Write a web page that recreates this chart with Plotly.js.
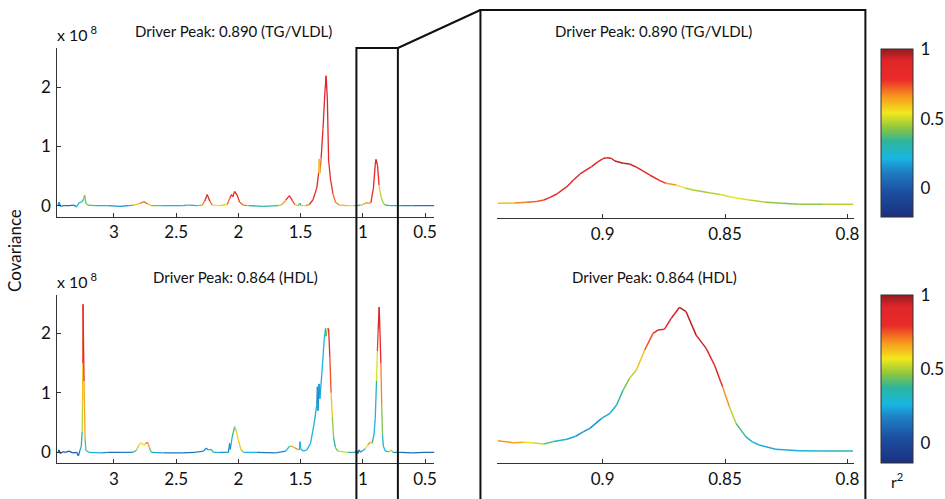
<!DOCTYPE html>
<html>
<head>
<meta charset="utf-8">
<script src="https://cdn.plot.ly/plotly-3.0.1.min.js"></script>
<style>html,body{margin:0;padding:0;background:#fff;}#chart{width:945px;height:499px;}</style>
</head>
<body>
<div id="chart"></div>
<script>
// ---------- DATA (covariance in units of 1e8, r² values) ----------
// Full spectrum, driver peak 0.890 (TG/VLDL)
const ppmTG = [3.45,3.44,3.43,3.40,3.36,3.32,3.30,3.28,3.26,3.245,3.235,3.225,3.21,3.15,3.05,2.95,2.88,2.84,2.79,2.76,2.73,2.70,2.62,2.45,2.40,2.33,2.29,2.27,2.25,2.23,2.21,2.15,2.09,2.07,2.055,2.045,2.03,2.01,1.99,1.96,1.93,1.92,1.8,1.68,1.65,1.62,1.59,1.565,1.545,1.52,1.505,1.495,1.46,1.43,1.40,1.37,1.355,1.35,1.345,1.335,1.32,1.305,1.295,1.285,1.275,1.26,1.24,1.22,1.19,1.12,1.07,1.05,1.02,1.0,0.975,0.955,0.935,0.915,0.90,0.894,0.887,0.882,0.87,0.86,0.85,0.835,0.82,0.78,0.70,0.6,0.5,0.425];
const covTG = [0.0,0.06,-0.01,0.0,0.0,0.01,-0.02,0.05,0.06,0.10,0.18,0.04,0.01,0.0,0.0,-0.01,0.0,0.01,0.04,0.07,0.03,0.0,0.0,0.0,0.01,0.0,0.01,0.08,0.19,0.08,0.01,0.0,0.02,0.12,0.19,0.15,0.24,0.18,0.06,0.01,0.0,0.0,-0.01,0.0,0.02,0.09,0.17,0.08,0.02,0.0,0.04,0.0,0.0,0.02,0.10,0.30,0.55,0.79,0.55,0.80,1.30,1.90,2.19,1.80,0.77,0.45,0.20,0.06,0.01,0.0,0.0,0.0,0.01,0.02,0.05,0.04,0.05,0.30,0.70,0.78,0.72,0.68,0.35,0.22,0.12,0.04,0.01,0.0,0.0,0.0,0.0,0.0];
const r2TG  = [0.1,0.15,0.1,0.08,0.05,0.1,0.2,0.25,0.3,0.4,0.45,0.4,0.45,0.3,0.2,0.12,0.15,0.55,0.65,0.75,0.7,0.5,0.3,0.2,0.25,0.3,0.55,0.8,0.85,0.8,0.6,0.5,0.65,0.8,0.82,0.8,0.85,0.82,0.75,0.7,0.7,0.35,0.3,0.35,0.55,0.75,0.8,0.75,0.7,0.5,0.25,0.45,0.6,0.75,0.8,0.82,0.8,0.45,0.6,0.85,0.85,0.88,0.9,0.88,0.85,0.8,0.75,0.7,0.65,0.6,0.45,0.25,0.3,0.6,0.7,0.65,0.7,0.85,0.88,0.92,0.95,0.9,0.7,0.5,0.45,0.45,0.4,0.25,0.18,0.1,0.08,0.08];

// Full spectrum, driver peak 0.864 (HDL)
const ppmHDL = [3.45,3.44,3.43,3.41,3.39,3.36,3.33,3.30,3.285,3.275,3.262,3.255,3.252,3.250,3.248,3.24,3.232,3.225,3.2,3.1,3.05,2.95,2.85,2.82,2.80,2.78,2.76,2.745,2.73,2.715,2.70,2.6,2.45,2.35,2.28,2.26,2.24,2.22,2.20,2.15,2.08,2.07,2.065,2.05,2.03,2.015,2.0,1.98,1.96,1.85,1.70,1.62,1.59,1.57,1.55,1.525,1.51,1.505,1.50,1.48,1.45,1.42,1.39,1.37,1.365,1.36,1.352,1.345,1.33,1.31,1.30,1.295,1.285,1.275,1.265,1.255,1.245,1.235,1.22,1.2,1.12,1.06,1.05,1.04,1.03,1.02,1.0,0.98,0.96,0.94,0.925,0.91,0.90,0.89,0.883,0.877,0.8686,0.862,0.855,0.848,0.842,0.835,0.82,0.79,0.77,0.76,0.7,0.6,0.5,0.425];
const covHDL = [0.0,0.04,-0.02,0.01,0.0,0.02,-0.01,0.0,-0.06,0.02,0.10,0.35,0.8,1.5,2.49,1.2,0.25,0.03,0.0,-0.01,0.0,0.0,0.0,0.03,0.12,0.16,0.12,0.15,0.17,0.08,0.0,-0.01,-0.01,0.0,0.02,0.07,0.04,0.05,0.0,0.0,0.0,0.15,0.05,0.25,0.43,0.35,0.2,0.05,0.0,0.0,-0.01,0.02,0.1,0.1,0.08,0.05,0.04,0.18,0.06,0.02,0.04,0.15,0.5,0.8,1.1,0.7,1.15,0.9,1.3,1.9,2.08,1.95,2.08,2.08,1.6,1.0,0.6,0.25,0.08,0.02,0.0,0.0,0.03,-0.02,0.04,0.0,0.03,0.06,0.12,0.17,0.15,0.3,0.57,1.2,1.7,2.05,2.44,2.0,1.5,0.77,0.3,0.1,0.02,0.01,0.04,0.0,0.0,-0.01,0.0,0.0];
const r2HDL  = [0.05,0.05,0.05,0.05,0.05,0.08,0.05,0.05,0.1,0.15,0.3,0.45,0.55,0.7,0.85,0.8,0.5,0.35,0.3,0.2,0.15,0.12,0.2,0.45,0.55,0.6,0.55,0.65,0.82,0.55,0.3,0.15,0.12,0.15,0.2,0.15,0.25,0.45,0.3,0.2,0.2,0.15,0.2,0.3,0.45,0.55,0.65,0.6,0.35,0.15,0.15,0.2,0.3,0.6,0.7,0.7,0.3,0.25,0.25,0.25,0.25,0.25,0.25,0.22,0.2,0.22,0.2,0.22,0.25,0.28,0.3,0.4,0.6,0.85,0.8,0.7,0.55,0.4,0.35,0.5,0.55,0.2,0.1,0.1,0.15,0.15,0.25,0.45,0.7,0.7,0.5,0.25,0.25,0.4,0.7,0.85,0.95,0.9,0.85,0.55,0.35,0.25,0.25,0.3,0.7,0.3,0.12,0.1,0.1,0.1];

// Zoom 0.94–0.80 ppm, TG/VLDL
const ppmTGz = [0.9428,0.936,0.931,0.927,0.924,0.9215,0.9187,0.9146,0.912,0.9092,0.9045,0.902,0.900,0.8984,0.8965,0.895,0.8916,0.889,0.886,0.8808,0.877,0.874,0.870,0.8665,0.863,0.8564,0.852,0.848,0.844,0.840,0.8333,0.8266,0.820,0.810,0.7975];
const covTGz = [0.04,0.045,0.057,0.072,0.096,0.14,0.197,0.32,0.43,0.535,0.66,0.74,0.79,0.81,0.80,0.754,0.715,0.703,0.647,0.518,0.43,0.377,0.349,0.30,0.265,0.22,0.19,0.152,0.12,0.096,0.06,0.04,0.025,0.023,0.023];
const r2TGz  = [0.55,0.65,0.7,0.72,0.75,0.8,0.82,0.84,0.85,0.85,0.86,0.87,0.88,0.9,0.92,0.95,0.96,0.96,0.9,0.85,0.8,0.72,0.58,0.5,0.45,0.45,0.5,0.55,0.52,0.5,0.45,0.42,0.42,0.45,0.52];

// Zoom 0.94–0.80 ppm, HDL
const ppmHDLz = [0.9428,0.9363,0.9322,0.928,0.924,0.920,0.9146,0.911,0.9078,0.9052,0.9004,0.897,0.8943,0.8916,0.889,0.8862,0.8828,0.8794,0.8774,0.8747,0.872,0.8686,0.8659,0.8618,0.8577,0.8543,0.851,0.8482,0.8455,0.8415,0.839,0.836,0.8293,0.8198,0.810,0.7977];
const covHDLz = [0.195,0.162,0.168,0.155,0.14,0.18,0.218,0.27,0.347,0.403,0.571,0.655,0.795,1.047,1.243,1.383,1.72,2.0,2.055,2.07,2.25,2.437,2.363,1.97,1.747,1.467,1.103,0.767,0.487,0.263,0.18,0.123,0.05,0.027,0.022,0.022];
const r2HDLz  = [0.68,0.68,0.62,0.55,0.5,0.35,0.25,0.22,0.22,0.2,0.22,0.25,0.32,0.42,0.48,0.55,0.7,0.8,0.85,0.85,0.88,0.95,0.96,0.96,0.92,0.88,0.8,0.55,0.45,0.32,0.28,0.25,0.22,0.25,0.3,0.35];

const xTicksFull = [3, 2.5, 2, 1.5, 1, 0.5];
const xTicksZoom = [0.9, 0.85, 0.8];
const xTickTextZoom = ['0.9', '0.85', '0.8'];
const yTicks = [0, 1, 2];
const cbTicks = [0, 0.5, 1];

// ---------- STYLE ----------
const jet = [[0,'#1b3080'],[0.15,'#1c4fa0'],[0.27,'#1f7fc4'],[0.35,'#18b6e2'],[0.45,'#2db59c'],[0.53,'#8cc63f'],[0.62,'#f2e81c'],[0.72,'#f7941d'],[0.82,'#ea2a2a'],[0.93,'#df2629'],[1,'#951b1e']];
const FONT = 'Lato, "Open Sans", sans-serif';

function hex2rgb(h){return [parseInt(h.slice(1,3),16),parseInt(h.slice(3,5),16),parseInt(h.slice(5,7),16)];}
function colorAt(v, cmin, cmax){
  let t = (v - cmin) / (cmax - cmin);
  t = Math.max(0, Math.min(1, Math.round(t*60)/60));
  for (let i=0;i<jet.length-1;i++){
    const a=jet[i], b=jet[i+1];
    if (t>=a[0] && t<=b[0]){
      const f=(t-a[0])/(b[0]-a[0]||1);
      const ca=hex2rgb(a[1]), cb=hex2rgb(b[1]);
      return 'rgb('+ca.map((c,k)=>Math.round(c+(cb[k]-c)*f)).join(',')+')';
    }
  }
  return jet[jet.length-1][1];
}
function buildTraces(ppm, cov, r2, xa, ya, cmin, cmax, w){
  const groups = {};
  for (let i=0;i<ppm.length-1;i++){
    const col = colorAt((r2[i]+r2[i+1])/2, cmin, cmax);
    if(!groups[col]) groups[col]={x:[],y:[]};
    groups[col].x.push(ppm[i],ppm[i+1],null);
    groups[col].y.push(cov[i],cov[i+1],null);
  }
  return Object.keys(groups).map(c=>({
    type:'scatter', mode:'lines', x:groups[c].x, y:groups[c].y,
    xaxis:xa, yaxis:ya, line:{color:c, width:w}, hoverinfo:'skip', showlegend:false
  }));
}

const CMIN_TOP = -0.21, CMIN_BOT = -0.14, CMAX = 1;
let traces = [];
traces = traces.concat(buildTraces(ppmTG, covTG, r2TG, 'x', 'y', CMIN_TOP, CMAX, 1.3));
traces = traces.concat(buildTraces(ppmHDL, covHDL, r2HDL, 'x2', 'y2', CMIN_BOT, CMAX, 1.3));
traces = traces.concat(buildTraces(ppmTGz, covTGz, r2TGz, 'x3', 'y3', CMIN_TOP, CMAX, 1.5));
traces = traces.concat(buildTraces(ppmHDLz, covHDLz, r2HDLz, 'x4', 'y4', CMIN_BOT, CMAX, 1.5));

function cbTrace(xa, ya, cmin, ycenter){
  return {type:'scatter', mode:'markers', x:[null,null], y:[null,null], xaxis:xa, yaxis:ya,
    showlegend:false, hoverinfo:'skip',
    marker:{color:[cmin,CMAX], cmin:cmin, cmax:CMAX, colorscale:jet, showscale:true,
      colorbar:{x:886/945, xanchor:'left', xpad:0, y:ycenter, yanchor:'middle', ypad:0,
        len:168, lenmode:'pixels', thickness:32, thicknessmode:'pixels',
        outlinewidth:1, outlinecolor:'#333', tickvals:cbTicks, ticktext:['0','0.5','1'],
        ticks:'outside', ticklen:4, tickcolor:'rgba(0,0,0,0)', tickfont:{family:FONT,size:17,color:'#111'}}}};
}
traces.push(cbTrace('x3','y3',CMIN_TOP, 1-133.3/499));
traces.push(cbTrace('x4','y4',CMIN_BOT, 1-379.2/499));

const TICKFONT = {family:FONT,size:17,color:'#111'};
const fullX = {range:[3.454,0.425], tickvals:xTicksFull, ticks:'inside', ticklen:4, tickcolor:'#333',
  showline:true, linecolor:'#333', linewidth:1, showgrid:false, zeroline:false,
  tickfont:TICKFONT, ticklabelstandoff:0};
const zoomX = {range:[0.943,0.7974], tickvals:xTicksZoom, ticktext:xTickTextZoom, ticks:'inside', ticklen:4, tickcolor:'#333',
  showline:true, linecolor:'#333', linewidth:1, showgrid:false, zeroline:false,
  tickfont:TICKFONT, ticklabelstandoff:0};
const leftY = {tickvals:yTicks, ticks:'inside', ticklen:4, tickcolor:'#333', showline:true, linecolor:'#333', linewidth:1,
  showgrid:false, zeroline:false, tickfont:TICKFONT, ticklabelstandoff:2};

const px = v=>v/945, py = v=>1-v/499;
const annFont = {family:FONT, size:15, color:'#111'};
const layout = {
  width:945, height:499, margin:{l:0,r:0,t:0,b:0}, paper_bgcolor:'#fff', plot_bgcolor:'rgba(0,0,0,0)',
  showlegend:false,
  xaxis: Object.assign({domain:[px(57.7),px(436.7)], anchor:'y'}, fullX),
  yaxis: Object.assign({domain:[py(216.7),py(48)], anchor:'x', range:[-0.1855,2.659]}, leftY),
  xaxis2: Object.assign({domain:[px(57.7),px(436.7)], anchor:'y2'}, fullX),
  yaxis2: Object.assign({domain:[py(463.3),py(295)], anchor:'x2', range:[-0.185,2.644]}, leftY),
  xaxis3: Object.assign({domain:[px(500),px(858.3)], anchor:'y3'}, zoomX),
  yaxis3: {domain:[py(218.3),py(48)], anchor:'x3', range:[-0.2125,2.659], visible:false},
  xaxis4: Object.assign({domain:[px(500),px(858.3)], anchor:'y4'}, zoomX),
  yaxis4: {domain:[py(463.3),py(295)], anchor:'x4', range:[-0.185,2.644], visible:false},
  shapes:[
    {type:'rect', xref:'paper', yref:'paper', x0:px(483), x1:px(870), y0:-0.02, y1:py(10), line:{color:'#111',width:2}},
    {type:'rect', xref:'paper', yref:'paper', x0:px(358.3), x1:px(400), y0:-0.02, y1:py(48), line:{color:'#111',width:2}},
    {type:'line', xref:'paper', yref:'paper', x0:px(400), y0:py(48), x1:px(483), y1:py(10), line:{color:'#111',width:2}}
  ],
  annotations:[
    {xref:'paper',yref:'paper',x:px(235),y:py(31),text:'Driver Peak: 0.890 (TG/VLDL)',showarrow:false,font:annFont,xanchor:'center',yanchor:'middle'},
    {xref:'paper',yref:'paper',x:px(237),y:py(277),text:'Driver Peak: 0.864 (HDL)',showarrow:false,font:annFont,xanchor:'center',yanchor:'middle'},
    {xref:'paper',yref:'paper',x:px(657),y:py(31),text:'Driver Peak: 0.890 (TG/VLDL)',showarrow:false,font:annFont,xanchor:'center',yanchor:'middle'},
    {xref:'paper',yref:'paper',x:px(658),y:py(277),text:'Driver Peak: 0.864 (HDL)',showarrow:false,font:annFont,xanchor:'center',yanchor:'middle'},
    {xref:'paper',yref:'paper',x:px(55),y:py(34),text:'x 10<sup> 8</sup>',showarrow:false,font:{family:FONT,size:16,color:'#111'},xanchor:'left',yanchor:'middle'},
    {xref:'paper',yref:'paper',x:px(55),y:py(280),text:'x 10<sup> 8</sup>',showarrow:false,font:{family:FONT,size:16,color:'#111'},xanchor:'left',yanchor:'middle'},
    {xref:'paper',yref:'paper',x:px(15),y:py(250),text:'Covariance',textangle:-90,showarrow:false,font:{family:FONT,size:17,color:'#111'},xanchor:'center',yanchor:'middle'},
    {xref:'paper',yref:'paper',x:px(902),y:py(480),text:'r<sup>2</sup>',showarrow:false,font:{family:FONT,size:16,color:'#111'},xanchor:'center',yanchor:'middle'}
  ]
};
Plotly.newPlot('chart', traces, layout, {staticPlot:true, displayModeBar:false});
</script>
</body>
</html>
